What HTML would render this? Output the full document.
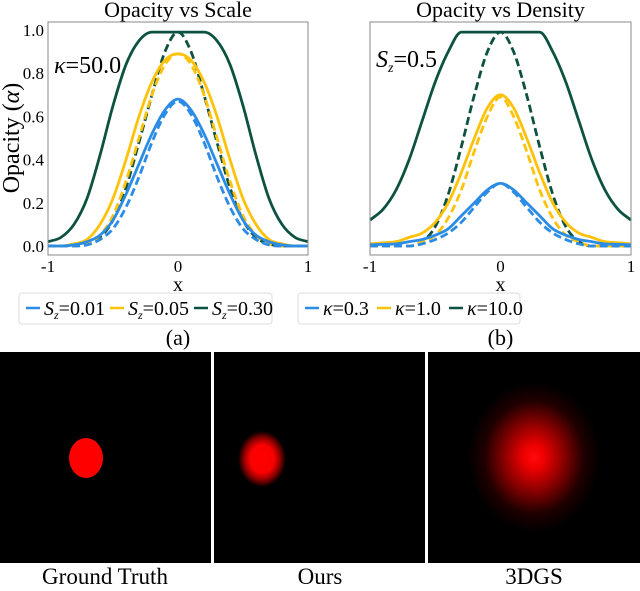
<!DOCTYPE html>
<html><head><meta charset="utf-8"><style>
body{margin:0;background:#fff;width:640px;height:586px;overflow:hidden;font-family:"Liberation Serif","DejaVu Serif",serif}
svg,svg text{font-family:"Liberation Serif","DejaVu Serif",serif}
</style></head><body>
<svg id="fig" width="640" height="586" viewBox="0 0 640 586" xmlns="http://www.w3.org/2000/svg" font-family="Liberation Serif, DejaVu Serif, serif" style="font-family:'Liberation Serif','DejaVu Serif',serif">
<defs>
<radialGradient id="gOurs"><stop offset="0" stop-color="#ff0000"/><stop offset="0.5" stop-color="#fa0000"/><stop offset="0.75" stop-color="#900000"/><stop offset="1" stop-color="#000"/></radialGradient>
<radialGradient id="g3d"><stop offset="0" stop-color="#ff0a0a"/><stop offset="0.15" stop-color="#f00000"/><stop offset="0.45" stop-color="#8a0000"/><stop offset="0.75" stop-color="#200000"/><stop offset="1" stop-color="#000"/></radialGradient>
</defs>
<g id="plots"></g>
<g>
<rect x="0" y="352" width="211" height="211" fill="#000"/>
<ellipse cx="86" cy="458" rx="17" ry="20" fill="#ff0000"/>
<rect x="214" y="352" width="211" height="211" fill="#000"/>
<ellipse cx="262" cy="459" rx="24" ry="28" fill="url(#gOurs)"/>
<rect x="428" y="352" width="212" height="211" fill="#000"/>
<ellipse cx="534" cy="457" rx="66" ry="75" fill="url(#g3d)"/>
<text x="105" y="584" font-size="23" text-anchor="middle">Ground Truth</text>
<text x="320" y="584" font-size="23" text-anchor="middle">Ours</text>
<text x="534" y="584" font-size="23" text-anchor="middle">3DGS</text>
</g>
</svg>
<script>
const xs=[-1,-0.9,-0.8,-0.7,-0.6,-0.5,-0.4,-0.3,-0.2,-0.1,0,0.1,0.2,0.3,0.4,0.5,0.6,0.7,0.8,0.9,1];
// panel (a)
const aBlueSolid=[0,0,0.005,0.02,0.05,0.12,0.24,0.38,0.52,0.63,0.68,0.63,0.52,0.38,0.24,0.12,0.05,0.02,0.005,0,0];
const aBlueDash=[0,0,0,0.005,0.03,0.08,0.18,0.32,0.48,0.61,0.67,0.61,0.48,0.32,0.18,0.08,0.03,0.005,0,0,0];
const aYellowSolid=[0,0,0.01,0.03,0.1,0.22,0.4,0.6,0.76,0.86,0.89,0.86,0.76,0.6,0.4,0.22,0.1,0.03,0.01,0,0];
const aYellowDash=[0,0,0,0.01,0.05,0.14,0.3,0.5,0.7,0.84,0.89,0.84,0.7,0.5,0.3,0.14,0.05,0.01,0,0,0];
const aGreenSolid=[0.02,0.04,0.1,0.22,0.42,0.65,0.84,0.95,0.99,0.99,0.99,0.99,0.99,0.95,0.84,0.65,0.42,0.22,0.1,0.04,0.02];
const aGreenDash=[0,0,0,0.01,0.04,0.12,0.27,0.48,0.7,0.9,0.99,0.9,0.7,0.48,0.27,0.12,0.04,0.01,0,0,0];
// panel (b)
const bBlueSolid=[0.005,0.008,0.01,0.02,0.03,0.05,0.08,0.14,0.2,0.26,0.29,0.26,0.2,0.14,0.08,0.05,0.03,0.02,0.01,0.008,0.005];
const bBlueDash=[0,0,0,0,0.01,0.03,0.06,0.11,0.18,0.25,0.29,0.25,0.18,0.11,0.06,0.03,0.01,0,0,0,0];
const bYellowSolid=[0.01,0.015,0.02,0.04,0.06,0.11,0.2,0.34,0.5,0.64,0.7,0.64,0.5,0.34,0.2,0.11,0.06,0.04,0.02,0.015,0.01];
const bYellowDash=[0,0,0,0,0.02,0.05,0.13,0.26,0.44,0.6,0.69,0.6,0.44,0.26,0.13,0.05,0.02,0,0,0,0];
const bGreenSolid=[0.12,0.17,0.26,0.4,0.58,0.76,0.9,0.99,0.99,0.99,0.99,0.99,0.99,0.99,0.9,0.76,0.58,0.4,0.26,0.17,0.12];
const bGreenDash=[0,0,0,0,0.02,0.09,0.24,0.46,0.7,0.9,0.99,0.9,0.7,0.46,0.24,0.09,0.02,0,0,0,0];
const yTicks=[0,0.2,0.4,0.6,0.8,1.0];
const yTickLabels=["0.0","0.2","0.4","0.6","0.8","1.0"];
const xTicks=[-1,0,1];
const xTickLabels=["-1","0","1"];
const legendA=["S_z=0.01","S_z=0.05","S_z=0.30"];
const legendB=["κ=0.3","κ=1.0","κ=10.0"];

const NS="http://www.w3.org/2000/svg";
const C={blue:"#2b8ce6",yellow:"#ffc20a",green:"#0d5240"};
const root=document.getElementById('plots');
function mk(tag,attrs,parent){const e=document.createElementNS(NS,tag);for(const k in attrs)e.setAttribute(k,attrs[k]);parent.appendChild(e);return e;}
function pathFrom(arr,sx,sy){
  // monotone cubic (Fritsch-Carlson) in data space
  const n=xs.length,h=[],d=[],m=new Array(n);
  for(let i=0;i<n-1;i++){h[i]=xs[i+1]-xs[i];d[i]=(arr[i+1]-arr[i])/h[i];}
  m[0]=d[0];m[n-1]=d[n-2];
  for(let i=1;i<n-1;i++){m[i]=(d[i-1]*d[i]<=0)?0:(d[i-1]+d[i])/2;}
  for(let i=0;i<n-1;i++){
    if(d[i]===0){m[i]=0;m[i+1]=0;continue;}
    const a=m[i]/d[i],b=m[i+1]/d[i],s=a*a+b*b;
    if(s>9){const t=3/Math.sqrt(s);m[i]=t*a*d[i];m[i+1]=t*b*d[i];}
  }
  let p=`M${sx(xs[0])},${sy(arr[0])}`;
  for(let i=0;i<n-1;i++){
    const c1x=xs[i]+h[i]/3,c1y=arr[i]+m[i]*h[i]/3,c2x=xs[i+1]-h[i]/3,c2y=arr[i+1]-m[i+1]*h[i]/3;
    p+=` C${sx(c1x)},${sy(c1y)} ${sx(c2x)},${sy(c2y)} ${sx(xs[i+1])},${sy(arr[i+1])}`;
  }
  return p;
}
function panel(cfg){
  const g=mk('g',{},root);
  
  
  const L=cfg.left,R=cfg.right,T=22,B=255;
  const sx=x=>L+(x+1)/2*(R-L);
  const sy=y=>246-y*216;
  const title=mk('text',{x:(L+R)/2,y:17,'font-size':22,'text-anchor':'middle'},g);title.textContent=cfg.title;
  
  
  for(const s of cfg.series){
    const p=mk('path',{d:pathFrom(s.data,sx,sy),fill:'none',stroke:C[s.color],'stroke-width':2.8,'stroke-dasharray':s.dash?'8,4':'none'},g);
    
    
  }
  const box=mk('rect',{x:L,y:T,width:R-L,height:B-T,fill:'none',stroke:'#888','stroke-width':1},g);
  
  
  if(cfg.yLabels){
    yTicks.forEach((v,i)=>{
      const t=mk('text',{x:L-4,y:sy(v)+6,'font-size':17,'text-anchor':'end'},g);t.textContent=yTickLabels[i];
      
      
    });
    const yl=mk('text',{x:0,y:0,'font-size':24,'text-anchor':'middle',transform:`translate(19,138) rotate(-90)`},g);
    yl.innerHTML='Opacity (<tspan font-style="italic">α</tspan>)';
    
    
  }
  xTicks.forEach((v,i)=>{
    const t=mk('text',{x:sx(v),y:272,'font-size':17,'text-anchor':'middle'},g);t.textContent=xTickLabels[i];
    
    
  });
  const xl=mk('text',{x:(L+R)/2,y:291,'font-size':20,'text-anchor':'middle'},g);xl.textContent='x';
  
  
  const ann=mk('text',{x:L+6,y:cfg.annY,'font-size':24},g);ann.innerHTML=cfg.ann;
  
  
  const lg=mk('g',{},g);
  
  
  mk('rect',{x:cfg.lx,y:293,width:cfg.lw,height:31,rx:3,fill:'#fff',stroke:'#ddd'},lg);
  cfg.legend.forEach((lab,i)=>{
    const ex=cfg.lx+7+i*cfg.step;
    const e=mk('g',{},lg);
    
    
    mk('line',{x1:ex,x2:ex+14,y1:308,y2:308,stroke:[C.blue,C.yellow,C.green][i],'stroke-width':2.5},e);
    const t=mk('text',{x:ex+18,y:315,'font-size':20},e);
    if(lab.startsWith('S_z')){t.innerHTML='<tspan font-style="italic">S</tspan><tspan font-style="italic" font-size="12" dy="4">z</tspan><tspan dy="-4">'+lab.slice(3)+'</tspan>';}
    else{t.innerHTML='<tspan font-style="italic">κ</tspan>'+lab.slice(1);}
  });
  const cap=mk('text',{x:(L+R)/2,y:345,'font-size':22,'text-anchor':'middle'},g);cap.textContent=cfg.cap;
  
  
}
panel({name:'chart-opacity-vs-scale',left:48,right:308,title:'Opacity vs Scale',yLabels:true,
  ann:'<tspan font-style="italic">κ</tspan>=50.0',annY:73,lx:19,lw:253,step:84,legend:legendA,cap:'(a)',
  series:[{name:'line-sz-0.30-dashed',data:aGreenDash,color:'green',dash:1},{name:'line-sz-0.30',data:aGreenSolid,color:'green'},
  {name:'line-sz-0.05',data:aYellowSolid,color:'yellow'},{name:'line-sz-0.05-dashed',data:aYellowDash,color:'yellow',dash:1},
  {name:'line-sz-0.01',data:aBlueSolid,color:'blue'},{name:'line-sz-0.01-dashed',data:aBlueDash,color:'blue',dash:1}]});
panel({name:'chart-opacity-vs-density',left:370,right:631,title:'Opacity vs Density',yLabels:false,
  ann:'<tspan font-style="italic">S</tspan><tspan font-style="italic" font-size="14" dy="5">z</tspan><tspan dy="-5">=0.5</tspan>',annY:67,lx:298,lw:222,step:72,legend:legendB,cap:'(b)',
  series:[{name:'line-kappa-10-dashed',data:bGreenDash,color:'green',dash:1},{name:'line-kappa-10',data:bGreenSolid,color:'green'},
  {name:'line-kappa-1',data:bYellowSolid,color:'yellow'},{name:'line-kappa-1-dashed',data:bYellowDash,color:'yellow',dash:1},
  {name:'line-kappa-0.3',data:bBlueSolid,color:'blue'},{name:'line-kappa-0.3-dashed',data:bBlueDash,color:'blue',dash:1}]});
</script>
</body></html>
